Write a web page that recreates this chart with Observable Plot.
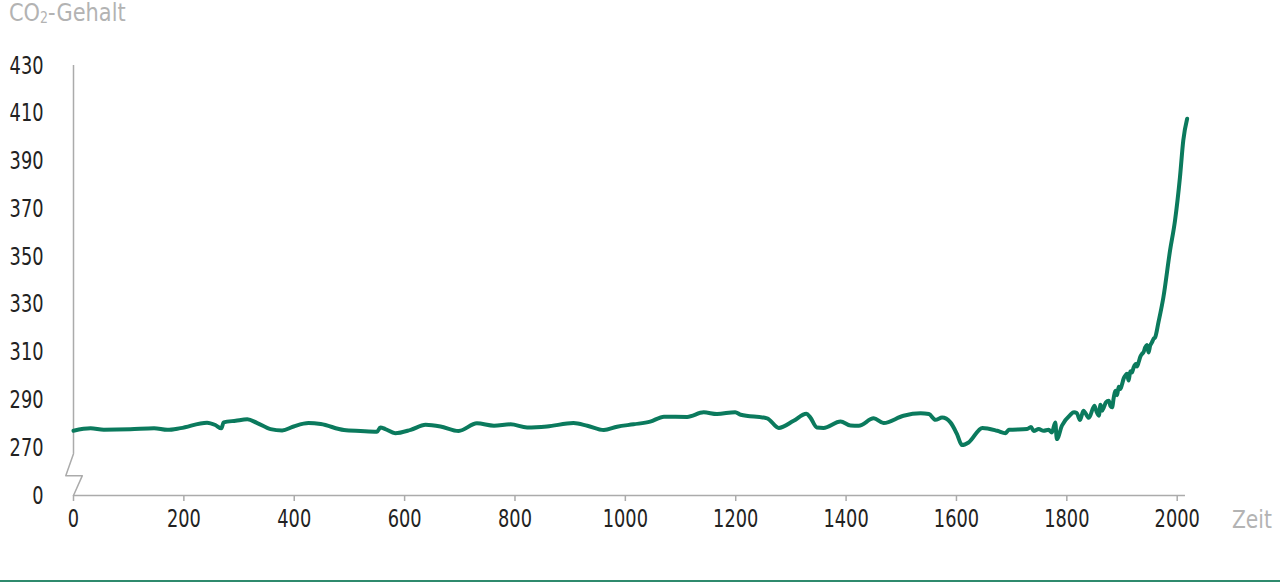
<!DOCTYPE html>
<html>
<head>
<meta charset="utf-8">
<script src="https://cdn.jsdelivr.net/npm/d3@7"></script>
<script src="https://cdn.jsdelivr.net/npm/@observablehq/plot@0.6"></script>
<style>
  html, body { margin: 0; padding: 0; background: #fff; }
  body { width: 1280px; height: 584px; position: relative; overflow: hidden;
         font-family: "DejaVu Sans Condensed", "Liberation Sans Narrow", sans-serif; }
  #title { position: absolute; left: 9px; top: -2px; font-size: 25px; color: #b3b3b3; white-space: nowrap;
           transform: scaleX(0.93); transform-origin: 0 0; }
  #title sub { font-size: 15px; vertical-align: baseline; position: relative; top: 2px; }
  #xlabel { position: absolute; left: 1232px; top: 505px; font-size: 25px; color: #b3b3b3;
            transform: scaleX(0.9); transform-origin: 0 0; }
  #bottomline { position: absolute; left: 0; top: 580px; width: 1280px; height: 2px; background: #2f8a6d; }
  #chart { position: absolute; left: 0; top: 0; }
</style>
</head>
<body>
<div id="chart"></div>
<div id="title">CO<sub>2</sub>-Gehalt</div>
<div id="xlabel">Zeit</div>
<div id="bottomline"></div>
<script>
const years = [0,31,55,103,146,170,194,242,257,268,272,294,315,333,357,378,399,426,448,490,520,550,556,565,583,611,638,665,698,731,762,792,822,858,906,931,961,985,1015,1045,1070,1112,1142,1166,1199,1209,1257,1278,1305,1328,1335,1347,1359,1390,1408,1423,1450,1468,1504,1535,1550,1562,1574,1589,1601,1610,1622,1647,1674,1689,1695,1728,1735,1740,1749,1758,1767,1773,1779,1782,1791,1806,1813,1818,1824,1830,1840,1850,1854,1858,1861,1864,1867,1871,1876,1879,1882,1885,1888,1891,1894,1897,1900,1903,1906,1909,1912,1915,1918,1921,1925,1927,1930,1933,1936,1939,1942,1945,1948,1951,1954,1957,1960,1966,1975,1987,1996,2005,2011,2018];
const co2 = [277.1,278.1,277.5,277.7,278.2,277.5,278.2,280.5,279.5,278.1,280.6,281.3,281.9,280.3,277.8,277.2,278.9,280.3,279.9,277.4,277.0,276.7,278.5,277.8,276.1,277.5,279.6,278.9,277.0,280.2,279.2,279.8,278.5,278.9,280.3,279.2,277.4,278.8,279.8,280.9,283.0,282.9,284.8,284.1,284.9,283.8,282.3,278.3,281.3,284.2,282.7,278.5,278.3,281.0,279.3,279.2,282.3,280.3,283.4,284.4,284.1,281.7,282.6,280.6,275.7,271.1,272.2,278.3,277.1,276.1,277.5,277.8,278.7,277.0,277.8,277.1,277.5,276.4,280.6,273.6,279.2,283.7,284.8,284.5,281.6,285.5,282.5,287.6,285.0,283.4,288.0,285.5,286.9,289.0,289.7,287.5,286.9,291.0,293.9,292.0,295.5,294.6,296.5,299.0,300.2,301.0,298.1,302.0,301.5,303.6,305.0,304.0,305.7,308.0,309.2,310.0,312.0,313.0,309.9,312.7,314.0,315.5,316.2,322.5,333.0,352.5,365.0,383.2,398.6,407.7];

const yTicks = [250,270,290,310,330,350,370,390,410,430];
const yTickLabels = ["0","270","290","310","330","350","370","390","410","430"];
const xTicks = [0,200,400,600,800,1000,1200,1400,1600,1800,2000];

// axis-break zigzag (in data units)
const breakX = [0,-14,16,0];
const breakY = [267.5,258.3,258.3,250];

const data = years.map((y, i) => ({year: y, value: co2[i]}));
const breakPts = breakX.map((x, i) => ({x, y: breakY[i]}));

const lineColor = "#0b7a5d";
const axisColor = "#ababab";
const fontStack = '"DejaVu Sans Condensed", "Liberation Sans Narrow", sans-serif';

const chart = Plot.plot({
  width: 1280,
  height: 584,
  marginLeft: 73,
  marginRight: 103.3,
  marginTop: 65,
  marginBottom: 89,
  style: {fontFamily: fontStack, fontSize: "25px", color: "#222", background: "transparent"},
  x: {domain: [0, 2000]},
  y: {domain: [250, 430]},
  marks: [
    Plot.axisY({ticks: yTicks, tickSize: 0, tickPadding: 30, tickFormat: d => yTickLabels[yTicks.indexOf(d)], label: null, fontSize: 25, fill: "#222"}),
    Plot.axisX({ticks: xTicks, tickSize: 6, tickPadding: 8, tickFormat: d => String(d), label: null, fontSize: 25, stroke: axisColor, strokeWidth: 1.5, fill: "#222"}),
    Plot.ruleY([250], {x1: 0, x2: 2015, stroke: axisColor, strokeWidth: 1.5}),
    Plot.ruleX([0], {y1: 267.5, y2: 430, stroke: axisColor, strokeWidth: 1.5}),
    Plot.line(breakPts, {x: "x", y: "y", stroke: axisColor, strokeWidth: 1.5}),
    Plot.line(data, {x: "year", y: "value", stroke: lineColor, strokeWidth: 4, curve: "monotone-x", strokeLinejoin: "round", strokeLinecap: "round"})
  ]
});
// narrow the tick labels to match the condensed face of the original
chart.querySelectorAll('g[aria-label$="tick label"] text').forEach(t => {
  const n = t.textContent.length;
  t.setAttribute("textLength", n * 11.3);
  t.setAttribute("lengthAdjust", "spacingAndGlyphs");
});
document.getElementById("chart").appendChild(chart);
</script>
</body>
</html>
